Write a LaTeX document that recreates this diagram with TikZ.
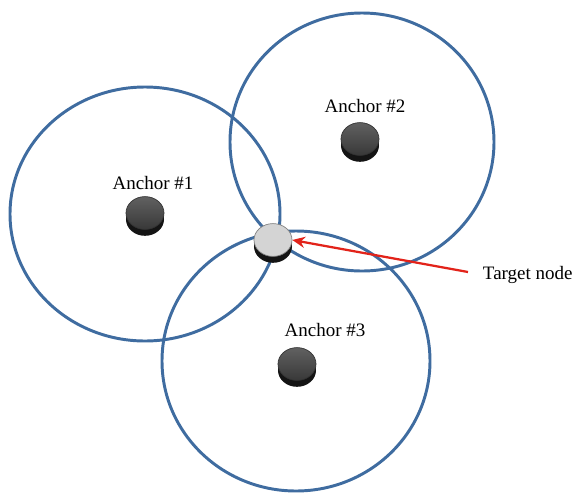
\documentclass[tikz,border=0pt]{standalone}
\usepackage{fontspec}
\setmainfont{Liberation Serif}
\usetikzlibrary{shapes.geometric,shadows,arrows.meta}
\definecolor{ringblue}{HTML}{3F6CA0}
\definecolor{arrowred}{HTML}{E2231A}

\begin{document}
\begin{tikzpicture}[x=0.025cm,y=-0.025cm,
  every node/.style={font=\fontsize{13.5}{16}\selectfont},
  ring/.style={draw=ringblue, line width=2.1pt},
  puck/.style={ellipse, minimum width=0.95cm, minimum height=0.82cm, draw=black!80, line width=0.5pt,
    drop shadow={fill=black!92, opacity=1, shadow xshift=0pt, shadow yshift=-0.16cm}},
  anchorpuck/.style={puck, top color=black!62, bottom color=black!78},
  targetpuck/.style={puck, fill=black!17, draw=black!50}]
\useasboundingbox (0,0) rectangle (581,495);

\draw[ring] (145,214) ellipse [x radius=135, y radius=127];
\draw[ring] (362,142) ellipse [x radius=132, y radius=129];
\draw[ring] (296,361) ellipse [x radius=134, y radius=130];

\node[anchorpuck] (a1) at (145,213) {};
\node[anchorpuck] (a2) at (360,139) {};
\node[anchorpuck] (a3) at (297,364) {};
\node[targetpuck] (target) at (273,240) {};

\node (l1) at (153,183) {Anchor \#1};
\node (l2) at (365,106) {Anchor \#2};
\node (l3) at (325,330) {Anchor \#3};
\node[anchor=west] (tl) at (478,275) {Target node};

\draw[arrowred, line width=1.6pt, -{Stealth[length=9pt,width=8pt]}] (tl.west) ++(-10,-3) coordinate (tail) (tail) -- (target.east);
\end{tikzpicture}
\end{document}
